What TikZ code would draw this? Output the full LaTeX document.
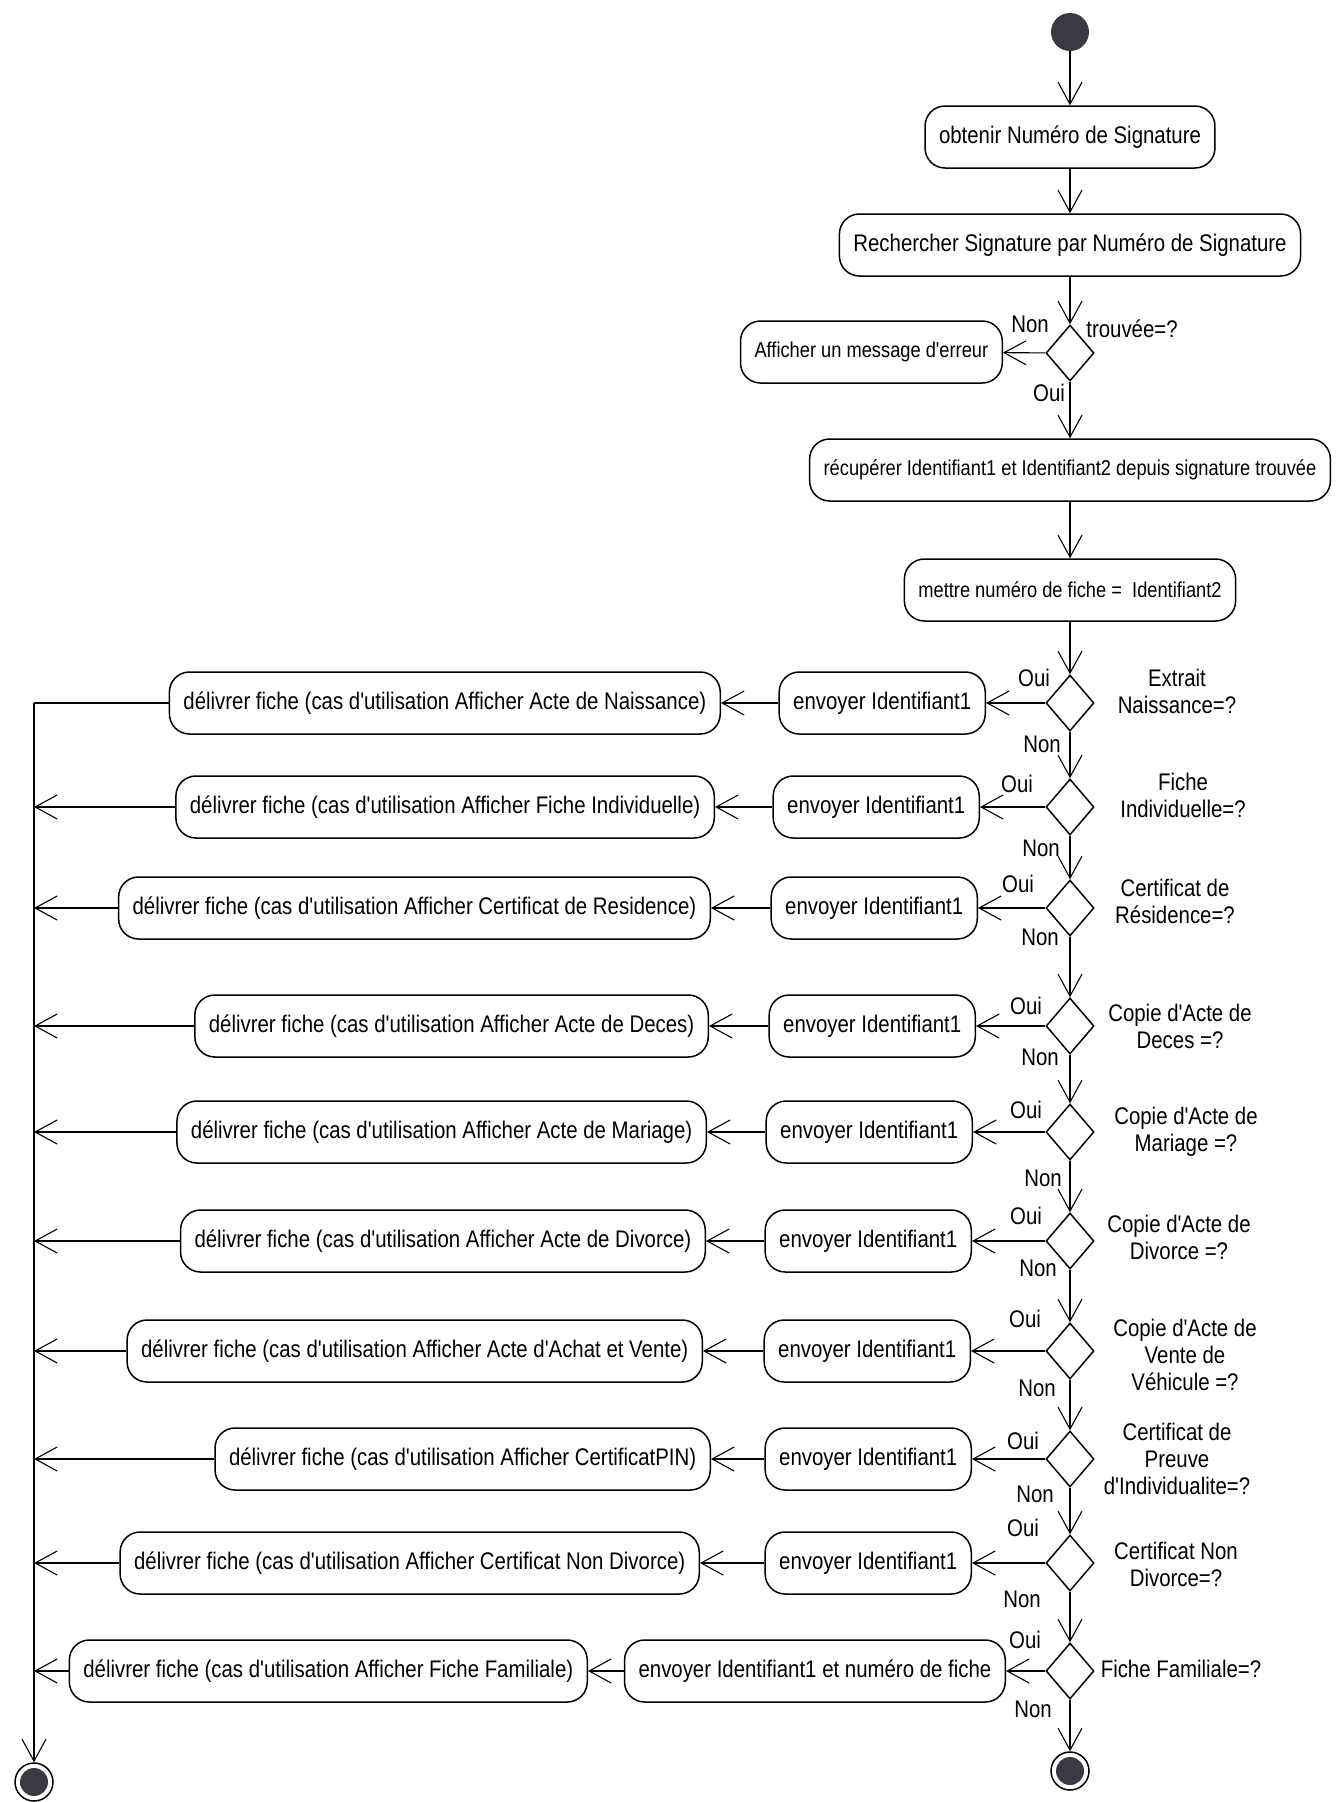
\documentclass[tikz,border=0pt]{standalone}
\usepackage{fontspec}
\setmainfont{Liberation Sans}[FakeStretch=0.85, Ligatures=TeXOff]
\usetikzlibrary{shapes.geometric,arrows.meta,calc}
\definecolor{dotc}{RGB}{58,58,68}
\begin{document}
\begin{tikzpicture}[x=1pt,y=-1pt,
  act/.style={draw, line width=1.5pt, rounded corners=20pt, minimum height=62pt, inner xsep=14pt, inner ysep=0pt, font=\fontsize{24}{27}\selectfont},
  actsm/.style={act, font=\fontsize{21.5}{25}\selectfont},
  dec/.style={diamond, draw, line width=1.5pt, minimum width=48pt, minimum height=56pt, inner sep=0pt},
  flow/.style={line width=1.1pt, -{Straight Barb[length=22pt,width=24pt,line width=1.1pt]}},
  plain/.style={line width=1.1pt},
  lbl/.style={font=\fontsize{24}{27}\selectfont, align=center, inner sep=0pt},
  startst/.style={circle, fill=dotc, minimum size=38pt, inner sep=0pt},
  endst/.style={circle, draw, line width=1.5pt, minimum size=38pt, inner sep=0pt,
     path picture={\fill[dotc] (path picture bounding box.center) circle (14pt);}}
]
\useasboundingbox[fill=white] (0,0) rectangle (1340,1802);

% top part
\node[startst] (start) at (1070,32) {};
\node[act] (b1) at (1070,137) {obtenir Numéro de Signature};
\node[act] (b2) at (1070,245) {Rechercher Signature par Numéro de Signature};
\node[dec] (q0) at (1070,353) {};
\node[actsm, anchor=east] (err) at (1003,352) {Afficher un message d'erreur};
\node[lbl] (q0non) at (1030,324) {Non};
\node[lbl] (q0oui) at (1049,393) {Oui};
\node[lbl] (q0lbl) at (1132,329) {trouvée=?};
\node[actsm] (b3) at (1070,470) {récupérer Identifiant1 et Identifiant2 depuis signature trouvée};
\node[actsm] (b4) at (1070,590) {mettre numéro de fiche =~ Identifiant2};

% decisions
\node[dec] (d1) at (1070,703) {};
\node[dec] (d2) at (1070,807) {};
\node[dec] (d3) at (1070,908) {};
\node[dec] (d4) at (1070,1026) {};
\node[dec] (d5) at (1070,1132) {};
\node[dec] (d6) at (1070,1241) {};
\node[dec] (d7) at (1070,1351) {};
\node[dec] (d8) at (1070,1459) {};
\node[dec] (d9) at (1070,1563) {};
\node[dec] (d10) at (1070,1671) {};
\node[endst] (endR) at (1070,1771) {};

% decision labels
\node[lbl] (l1) at (1177,691) {Extrait\\Naissance=?};
\node[lbl] (l2) at (1183,795) {Fiche\\Individuelle=?};
\node[lbl] (l3) at (1175,901) {Certificat de\\Résidence=?};
\node[lbl] (l4) at (1180,1026) {Copie d'Acte de\\Deces =?};
\node[lbl] (l5) at (1186,1132) {Copie d'Acte de\\Mariage =?};
\node[lbl] (l6) at (1179,1237) {Copie d'Acte de\\Divorce =?};
\node[lbl] (l7) at (1185,1355) {Copie d'Acte de\\Vente de\\Véhicule =?};
\node[lbl] (l8) at (1177,1459) {Certificat de\\Preuve\\d'Individualite=?};
\node[lbl] (l9) at (1176,1564) {Certificat Non\\Divorce=?};
\node[lbl] (l10) at (1181,1669) {Fiche Familiale=?};

% Oui / Non labels
\node[lbl] (o1) at (1034,678) {Oui};  \node[lbl] (n1) at (1042,744) {Non};
\node[lbl] (o2) at (1017,784) {Oui};  \node[lbl] (n2) at (1041,848) {Non};
\node[lbl] (o3) at (1018,884) {Oui};  \node[lbl] (n3) at (1040,937) {Non};
\node[lbl] (o4) at (1026,1006) {Oui}; \node[lbl] (n4) at (1040,1057) {Non};
\node[lbl] (o5) at (1026,1110) {Oui}; \node[lbl] (n5) at (1043,1178) {Non};
\node[lbl] (o6) at (1026,1216) {Oui}; \node[lbl] (n6) at (1038,1268) {Non};
\node[lbl] (o7) at (1025,1319) {Oui}; \node[lbl] (n7) at (1037,1388) {Non};
\node[lbl] (o8) at (1023,1441) {Oui}; \node[lbl] (n8) at (1035,1494) {Non};
\node[lbl] (o9) at (1023,1528) {Oui}; \node[lbl] (n9) at (1022,1599) {Non};
\node[lbl] (o10) at (1025,1640) {Oui}; \node[lbl] (n10) at (1033,1709) {Non};

% envoyer boxes
\node[act, anchor=east] (e1) at (986,703) {envoyer Identifiant1};
\node[act, anchor=east] (e2) at (980,807) {envoyer Identifiant1};
\node[act, anchor=east] (e3) at (978,908) {envoyer Identifiant1};
\node[act, anchor=east] (e4) at (976,1026) {envoyer Identifiant1};
\node[act, anchor=east] (e5) at (973,1132) {envoyer Identifiant1};
\node[act, anchor=east] (e6) at (972,1241) {envoyer Identifiant1};
\node[act, anchor=east] (e7) at (971,1351) {envoyer Identifiant1};
\node[act, anchor=east] (e8) at (972,1459) {envoyer Identifiant1};
\node[act, anchor=east] (e9) at (972,1563) {envoyer Identifiant1};
\node[act, anchor=east] (e10) at (1006,1671) {envoyer Identifiant1 et numéro de fiche};

% delivrer boxes
\node[act, anchor=east] (f1) at (721,703) {délivrer fiche (cas d'utilisation Afficher Acte de Naissance)};
\node[act, anchor=east] (f2) at (715,807) {délivrer fiche (cas d'utilisation Afficher Fiche Individuelle)};
\node[act, anchor=east] (f3) at (711,908) {délivrer fiche (cas d'utilisation Afficher Certificat de Residence)};
\node[act, anchor=east] (f4) at (709,1026) {délivrer fiche (cas d'utilisation Afficher Acte de Deces)};
\node[act, anchor=east] (f5) at (707,1132) {délivrer fiche (cas d'utilisation Afficher Acte de Mariage)};
\node[act, anchor=east] (f6) at (706,1241) {délivrer fiche (cas d'utilisation Afficher Acte de Divorce)};
\node[act, anchor=east] (f7) at (703,1351) {délivrer fiche (cas d'utilisation Afficher Acte d'Achat et Vente)};
\node[act, anchor=east] (f8) at (711,1459) {délivrer fiche (cas d'utilisation Afficher CertificatPIN)};
\node[act, anchor=east] (f9) at (700,1563) {délivrer fiche (cas d'utilisation Afficher Certificat Non Divorce)};
\node[act, anchor=east] (f10) at (588,1671) {délivrer fiche (cas d'utilisation Afficher Fiche Familiale)};

% left collector line
\coordinate (L1) at (34,703);
\coordinate (L2) at (34,807);
\coordinate (L3) at (34,908);
\coordinate (L4) at (34,1026);
\coordinate (L5) at (34,1132);
\coordinate (L6) at (34,1241);
\coordinate (L7) at (34,1351);
\coordinate (L8) at (34,1459);
\coordinate (L9) at (34,1563);
\coordinate (L10) at (34,1671);
\node[endst] (endL) at (34,1782) {};

% connectors top
\draw[flow] (start) -- (b1);
\draw[flow] (b1) -- (b2);
\draw[flow] (b2) -- (q0);
\draw[flow] (q0) -- (err);
\draw[flow] (q0) -- (b3);
\draw[flow] (b3) -- (b4);
\draw[flow] (b4) -- (d1);

% decision chain
\draw[flow] (d1) -- (d2);
\draw[flow] (d2) -- (d3);
\draw[flow] (d3) -- (d4);
\draw[flow] (d4) -- (d5);
\draw[flow] (d5) -- (d6);
\draw[flow] (d6) -- (d7);
\draw[flow] (d7) -- (d8);
\draw[flow] (d8) -- (d9);
\draw[flow] (d9) -- (d10);
\draw[flow] (d10) -- (endR);

% rows
\foreach \i in {1,...,10}{
  \draw[flow] (d\i) -- (e\i);
  \draw[flow] (e\i) -- (f\i);
}
\draw[plain] (f1.west) -- (L1);
\foreach \i in {2,...,10}{
  \draw[flow] (f\i.west) -- (L\i);
}
\draw[flow] (L1) -- (endL);
\end{tikzpicture}
\end{document}
